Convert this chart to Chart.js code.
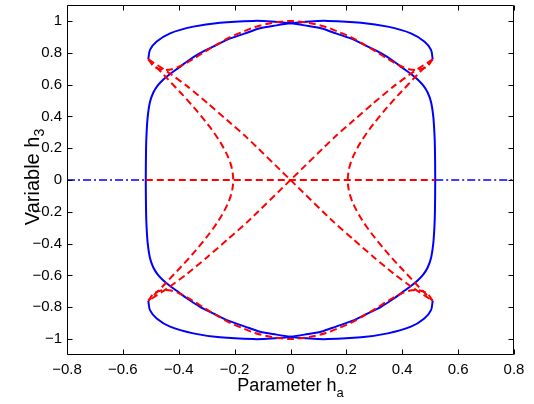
<!DOCTYPE html>
<html>
<head>
<meta charset="utf-8">
<script src="https://cdn.jsdelivr.net/npm/chart.js@4/dist/chart.umd.min.js"></script>
<style>
html,body{margin:0;padding:0;background:#fff;}
#c{display:block;}
</style>
</head>
<body>
<canvas id="c" width="534" height="404"></canvas>
<script>
// ---- Tick values and labels ----
const xTicks = [-0.8,-0.6,-0.4,-0.2,0,0.2,0.4,0.6,0.8];
const xTickLabels = ['\u22120.8','\u22120.6','\u22120.4','\u22120.2','0','0.2','0.4','0.6','0.8'];
const yTicks = [-1,-0.8,-0.6,-0.4,-0.2,0,0.2,0.4,0.6,0.8,1];
const yTickLabels = ['\u22121','\u22120.8','\u22120.6','\u22120.4','\u22120.2','0','0.2','0.4','0.6','0.8','1'];
const xTitle = 'Parameter h', xTitleSub = 'a';
const yTitle = 'Variable h', yTitleSub = '3';

// ---- Stable branches (blue solid) ----
const blueLeftFoldBranch = [
 [-0.509,0.759],[-0.503,0.818],[-0.479,0.870],[-0.431,0.922],[-0.348,0.964],[-0.252,0.989],[-0.133,1.0],[-0.07,0.997],[0,0.985],
 [0.05,0.972],[0.109,0.954],[0.165,0.92],[0.228,0.881],[0.275,0.84],[0.324,0.797],[0.37,0.745],[0.40,0.706],[0.43,0.668],[0.455,0.632],[0.475,0.595],[0.491,0.55],
 [0.503,0.49],[0.511,0.4],[0.515,0.3],[0.517,0.2],[0.518,0],[0.517,-0.2],[0.515,-0.3],[0.511,-0.4],[0.503,-0.49],
 [0.491,-0.55],[0.475,-0.595],[0.455,-0.632],[0.43,-0.668],[0.40,-0.706],[0.37,-0.745],[0.324,-0.797],[0.275,-0.84],[0.228,-0.881],[0.165,-0.92],[0.109,-0.954],[0.05,-0.972],
 [0,-0.985],[-0.07,-0.997],[-0.133,-1.0],[-0.252,-0.989],[-0.348,-0.964],[-0.431,-0.922],[-0.479,-0.870],[-0.503,-0.818],[-0.509,-0.759]
];
const blueRightFoldBranch = [
 [0.509,0.759],[0.503,0.818],[0.479,0.870],[0.431,0.922],[0.348,0.964],[0.252,0.989],[0.133,1.0],[0.07,0.997],[0,0.985],
 [-0.05,0.972],[-0.109,0.954],[-0.165,0.92],[-0.228,0.881],[-0.275,0.84],[-0.324,0.797],[-0.37,0.745],[-0.40,0.706],[-0.43,0.668],[-0.455,0.632],[-0.475,0.595],[-0.491,0.55],
 [-0.503,0.49],[-0.511,0.4],[-0.515,0.3],[-0.517,0.2],[-0.518,0],[-0.517,-0.2],[-0.515,-0.3],[-0.511,-0.4],[-0.503,-0.49],
 [-0.491,-0.55],[-0.475,-0.595],[-0.455,-0.632],[-0.43,-0.668],[-0.40,-0.706],[-0.37,-0.745],[-0.324,-0.797],[-0.275,-0.84],[-0.228,-0.881],[-0.165,-0.92],[-0.109,-0.954],[-0.05,-0.972],
 [0,-0.985],[0.07,-0.997],[0.133,-1.0],[0.252,-0.989],[0.348,-0.964],[0.431,-0.922],[0.479,-0.870],[0.503,-0.818],[0.509,-0.759]
];
// trivial stable state (blue dash-dot)
const blueZeroLeft = [[-0.8,0],[-0.518,0]];
const blueZeroRight = [[0.518,0],[0.8,0]];

// ---- Unstable branches (red dashed) ----
const redZero = [[-0.518,0],[0.518,0]];
const redTopArc = [
 [-0.509,0.759],[-0.49,0.715],[-0.463,0.694],[-0.428,0.695],[-0.392,0.718],[-0.344,0.765],[-0.308,0.805],[-0.26,0.855],[-0.216,0.898],[-0.169,0.933],[-0.127,0.962],[-0.085,0.981],[-0.044,0.993],
 [0,1.0],[0.044,0.993],[0.085,0.981],[0.127,0.962],[0.169,0.933],[0.216,0.898],[0.26,0.855],[0.308,0.805],[0.344,0.765],[0.392,0.718],[0.428,0.695],[0.463,0.694],[0.49,0.715],[0.509,0.759]
];
const redBottomArc = [
 [-0.509,-0.759],[-0.49,-0.715],[-0.463,-0.694],[-0.428,-0.695],[-0.392,-0.718],[-0.344,-0.765],[-0.308,-0.805],[-0.26,-0.855],[-0.216,-0.898],[-0.169,-0.933],[-0.127,-0.962],[-0.085,-0.981],[-0.044,-0.993],
 [0,-1.0],[0.044,-0.993],[0.085,-0.981],[0.127,-0.962],[0.169,-0.933],[0.216,-0.898],[0.26,-0.855],[0.308,-0.805],[0.344,-0.765],[0.392,-0.718],[0.428,-0.695],[0.463,-0.694],[0.49,-0.715],[0.509,-0.759]
];
const redHyperLeft = [
 [-0.509,0.759],[-0.475,0.70],[-0.421,0.60],[-0.368,0.50],[-0.319,0.40],[-0.275,0.30],[-0.239,0.20],[-0.214,0.10],[-0.205,0],
 [-0.214,-0.10],[-0.239,-0.20],[-0.275,-0.30],[-0.319,-0.40],[-0.368,-0.50],[-0.421,-0.60],[-0.475,-0.70],[-0.509,-0.759]
];
const redHyperRight = [
 [0.509,0.759],[0.475,0.70],[0.421,0.60],[0.368,0.50],[0.319,0.40],[0.275,0.30],[0.239,0.20],[0.214,0.10],[0.205,0],
 [0.214,-0.10],[0.239,-0.20],[0.275,-0.30],[0.319,-0.40],[0.368,-0.50],[0.421,-0.60],[0.475,-0.70],[0.509,-0.759]
];
const redDiagA = [
 [-0.509,0.759],[-0.44,0.68],[-0.368,0.587],[-0.296,0.482],[-0.228,0.378],[-0.157,0.268],[0,0],
 [0.157,-0.268],[0.228,-0.378],[0.296,-0.482],[0.368,-0.587],[0.44,-0.68],[0.509,-0.759]
];
const redDiagB = [
 [0.509,0.759],[0.44,0.68],[0.368,0.587],[0.296,0.482],[0.228,0.378],[0.157,0.268],[0,0],
 [-0.157,-0.268],[-0.228,-0.378],[-0.296,-0.482],[-0.368,-0.587],[-0.44,-0.68],[-0.509,-0.759]
];

const FONT = '"Liberation Sans", Arial, Helvetica, sans-serif';
const BLUE = '#0000ff', RED = '#ff0000';
const pts = a => a.map(p => ({x:p[0], y:p[1]}));

function ds(arr, color, dash, width, tension){
  return {data: pts(arr), borderColor: color, borderWidth: width, borderDash: dash,
          showLine: true, pointRadius: 0, fill: false, tension: tension,
          borderCapStyle: 'butt', borderJoinStyle: 'round'};
}

const datasets = [
  ds(redZero, RED, [7,4], 2, 0),
  ds(redTopArc, RED, [7,4], 2, 0.3),
  ds(redBottomArc, RED, [7,4], 2, 0.3),
  ds(redHyperLeft, RED, [7,4], 2, 0.35),
  ds(redHyperRight, RED, [7,4], 2, 0.35),
  ds(redDiagA, RED, [7,4], 2, 0.2),
  ds(redDiagB, RED, [7,4], 2, 0.2),
  ds(blueLeftFoldBranch, BLUE, [], 2, 0.3),
  ds(blueRightFoldBranch, BLUE, [], 2, 0.3),
  ds(blueZeroLeft, BLUE, [8,3,2,3], 1.6, 0),
  ds(blueZeroRight, BLUE, [8,3,2,3], 1.6, 0)
];

const framePlugin = {
  id: 'frame',
  afterDraw(chart){
    const {ctx, chartArea:{left,right,top,bottom}, scales:{x,y}} = chart;
    ctx.save();
    ctx.strokeStyle = '#000';
    ctx.lineWidth = 1;
    ctx.beginPath();
    const L = Math.round(left)+0.5, R = Math.round(right)-0.5, T = Math.round(top)+0.5, B = Math.round(bottom)-0.5;
    ctx.rect(L, T, R-L, B-T);
    const tl = 5;
    xTicks.forEach(v => {
      const px = Math.round(x.getPixelForValue(v))+0.5;
      ctx.moveTo(px, B); ctx.lineTo(px, B-tl);
      ctx.moveTo(px, T); ctx.lineTo(px, T+tl);
    });
    yTicks.forEach(v => {
      const py = Math.round(y.getPixelForValue(v))+0.5;
      ctx.moveTo(L, py); ctx.lineTo(L+tl, py);
      ctx.moveTo(R, py); ctx.lineTo(R-tl, py);
    });
    ctx.stroke();

    // axis titles with subscripts
    ctx.fillStyle = '#000';
    ctx.textBaseline = 'alphabetic';
    ctx.textAlign = 'left';
    const fx = 18, sx = 13;
    ctx.font = fx + 'px ' + FONT;
    const wMain = ctx.measureText(xTitle).width;
    ctx.font = sx + 'px ' + FONT;
    const wSub = ctx.measureText(xTitleSub).width;
    const cx = (left+right)/2;
    const x0 = cx - (wMain + wSub)/2;
    ctx.font = fx + 'px ' + FONT;
    ctx.fillText(xTitle, x0, 391);
    ctx.font = sx + 'px ' + FONT;
    ctx.fillText(xTitleSub, x0 + wMain, 397);

    const fy = 20, sy = 14;
    ctx.font = fy + 'px ' + FONT;
    const wyMain = ctx.measureText(yTitle).width;
    ctx.font = sy + 'px ' + FONT;
    const wySub = ctx.measureText(yTitleSub).width;
    ctx.translate(39, 177);
    ctx.rotate(-Math.PI/2);
    const y0 = -(wyMain + wySub)/2;
    ctx.font = fy + 'px ' + FONT;
    ctx.fillText(yTitle, y0, 0);
    ctx.font = sy + 'px ' + FONT;
    ctx.fillText(yTitleSub, y0 + wyMain, 5);
    ctx.restore();
  }
};

new Chart(document.getElementById('c'), {
  type: 'scatter',
  data: { datasets },
  options: {
    responsive: false,
    animation: false,
    devicePixelRatio: 1,
    layout: { padding: { top: 5, right: 20, left: 0, bottom: 0 } },
    plugins: { legend: { display: false }, tooltip: { enabled: false } },
    scales: {
      x: {
        type: 'linear', min: -0.8, max: 0.8,
        afterBuildTicks: s => { s.ticks = xTicks.map(v => ({value: v})); },
        afterFit: s => { s.height = 49; s.paddingLeft = 0; s.paddingRight = 0; },
        grid: { display: false, drawTicks: false },
        border: { display: false },
        ticks: { padding: 6, color: '#000', font: { family: FONT, size: 15 },
                 maxRotation: 0, autoSkip: false,
                 callback: (v, i) => xTickLabels[i] }
      },
      y: {
        type: 'linear', min: -1.1, max: 1.1,
        afterBuildTicks: s => { s.ticks = yTicks.map(v => ({value: v})); },
        afterFit: s => { s.width = 67; s.paddingTop = 0; s.paddingBottom = 0; },
        grid: { display: false, drawTicks: false },
        border: { display: false },
        ticks: { padding: 5, color: '#000', font: { family: FONT, size: 15 },
                 autoSkip: false,
                 callback: (v, i) => yTickLabels[i] }
      }
    }
  },
  plugins: [framePlugin]
});
</script>
</body>
</html>
